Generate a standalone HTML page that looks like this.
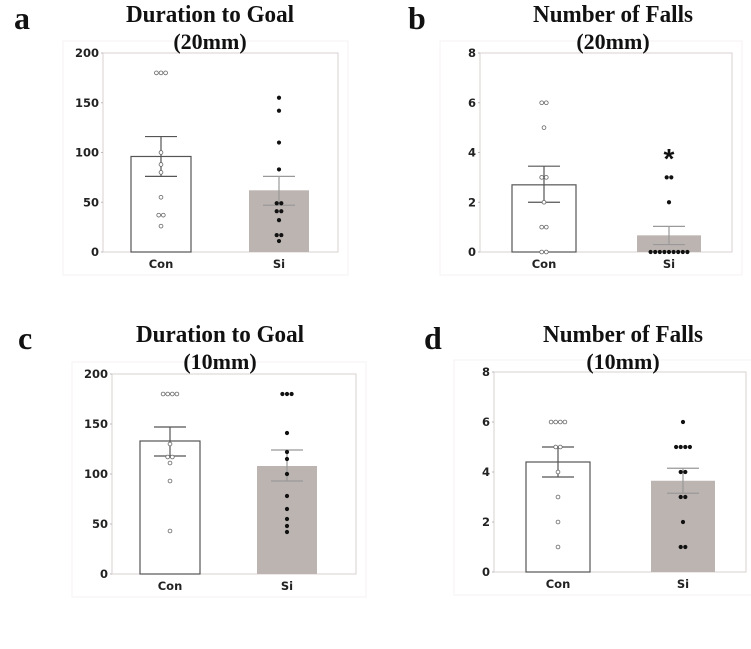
<!DOCTYPE html>
<html><head><meta charset="utf-8">
<style>
body{margin:0;background:#fff;width:751px;height:649px;overflow:hidden}
svg{display:block}
.ttl{font-family:"Liberation Serif",serif;font-weight:bold;font-size:22px;fill:#111;text-anchor:middle}
.lbl{font-family:"Liberation Serif",serif;font-weight:bold;font-size:32px;fill:#111}
.tick{font-family:"DejaVu Sans","Liberation Sans",sans-serif;font-weight:bold;font-size:11.5px;fill:#222}
</style></head><body>
<svg id="fig" width="751" height="649"></svg>
<script>
// Panel data
const categories = ["Con","Si"];
const aCon = [180,180,180,100,88,80,55,37,37,26];
const aSi = [155,142,110,83,49,49,41,41,32,17,17,11];
const aMeans = [96,62];
const aErrLo = [76,47];
const aErrHi = [116,76];
const aTicks = [0,50,100,150,200];

const bCon = [6,6,5,3,3,2,1,1,0,0];
const bSi = [3,3,2,0,0,0,0,0,0,0,0,0];
const bMeans = [2.7,0.67];
const bErrLo = [2.0,0.3];
const bErrHi = [3.45,1.03];
const bTicks = [0,2,4,6,8];

const cCon = [180,180,180,180,130,117,117,111,93,43];
const cSi = [180,180,180,141,122,115,100,78,65,55,48,42];
const cMeans = [133,108];
const cErrLo = [118,93];
const cErrHi = [147,124];
const cTicks = [0,50,100,150,200];

const dCon = [6,6,6,6,5,5,4,3,2,1];
const dSi = [6,5,5,5,5,4,4,3,3,2,1,1];
const dMeans = [4.4,3.65];
const dErrLo = [3.8,3.15];
const dErrHi = [5.0,4.15];
const dTicks = [0,2,4,6,8];

const NS="http://www.w3.org/2000/svg";
const svg=document.getElementById('fig');
function mk(tag,attrs,parent){const e=document.createElementNS(NS,tag);for(const k in attrs)e.setAttribute(k,attrs[k]);(parent||svg).appendChild(e);return e;}

function panel(o){
  const g=mk('g',{});
  
  
  const ymax=o.ticks[o.ticks.length-1];
  const y=v=>o.bottom-(v/ymax)*(o.bottom-o.top);
  const f=mk('rect',{x:o.left-40,y:o.top-12,width:o.right-o.left+50,height:o.bottom-o.top+35,fill:'none',stroke:'#f4f2f2','stroke-width':1},g);
  
  
  const box=mk('rect',{x:o.left,y:o.top,width:o.right-o.left,height:o.bottom-o.top,fill:'#fff',stroke:'#d8d0d0','stroke-width':1},g);
  
  
  o.ticks.forEach(t=>{
    const tx=mk('text',{x:o.left-4,y:y(t)+4,'text-anchor':'end',class:'tick'},g);
    tx.textContent=t;
    
    
    mk('line',{x1:o.left-2,x2:o.left,y1:y(t),y2:y(t),stroke:'#bbb'},g);
  });
  const centers=o.centers, bw=o.bw;
  const fills=['#fff','#bcb4b1'];
  const strokes=['#555','none'];
  for(let i=0;i<2;i++){
    const b=mk('rect',{x:centers[i]-bw/2,y:y(o.means[i]),width:bw,height:o.bottom-y(o.means[i]),fill:fills[i],stroke:strokes[i],'stroke-width':1.2},g);
    
    
    const ec=i==0?'#555':'#999';
    const eb=mk('path',{d:`M${centers[i]} ${y(o.lo[i])}V${y(o.hi[i])}M${centers[i]-16} ${y(o.hi[i])}h32M${centers[i]-16} ${y(o.lo[i])}h32`,stroke:ec,'stroke-width':1.2,fill:'none'},g);
    
    
    const xl=mk('text',{x:centers[i],y:o.bottom+16,'text-anchor':'middle',class:'tick','font-size':'12.5'},g);
    xl.textContent=categories[i];
    
    
  }
  [o.con,o.si].forEach((arr,i)=>{
    const groups={};
    arr.forEach(v=>{groups[v]=(groups[v]||0)+1;});
    Object.keys(groups).forEach(k=>{
      const n=groups[k],v=+k;
      for(let j=0;j<n;j++){
        const cx=centers[i]+(j-(n-1)/2)*4.6;
        const c=mk('circle',{cx:cx,cy:y(v),r:i==0?1.9:2.1,fill:i==0?'#fff':'#111',stroke:i==0?'#666':'none','stroke-width':0.8},g);
        
        
      }
    });
  });
  const t1=mk('text',{x:0,y:0,class:'ttl',transform:`translate(${o.tcx} ${o.ty}) scale(1.05 1.12)`},g);t1.textContent=o.title;
  
  
  const t2=mk('text',{x:o.tcx,y:o.ty+27,class:'ttl'},g);t2.textContent=o.sub;
  
  
  const l=mk('text',{x:o.lx,y:o.ty+7,class:'lbl'},g);l.textContent=o.id;
  
  
  if(o.star){const s=mk('text',{x:centers[1],y:y(3.85)+12,'text-anchor':'middle','font-family':'Liberation Sans,sans-serif','font-size':'28','font-weight':'bold',fill:'#111'},g);s.textContent='*';
    
    }
}
panel({id:'a',left:103,right:338,top:53,bottom:252,centers:[161,279],bw:60,ticks:aTicks,means:aMeans,lo:aErrLo,hi:aErrHi,con:aCon,si:aSi,title:'Duration to Goal',sub:'(20mm)',tcx:210,ty:22,lx:14});
panel({id:'b',left:480,right:732,top:53,bottom:252,centers:[544,669],bw:64,ticks:bTicks,means:bMeans,lo:bErrLo,hi:bErrHi,con:bCon,si:bSi,title:'Number of Falls',sub:'(20mm)',tcx:613,ty:22,lx:408,star:true});
panel({id:'c',left:112,right:356,top:374,bottom:574,centers:[170,287],bw:60,ticks:cTicks,means:cMeans,lo:cErrLo,hi:cErrHi,con:cCon,si:cSi,title:'Duration to Goal',sub:'(10mm)',tcx:220,ty:342,lx:18});
panel({id:'d',left:494,right:746,top:372,bottom:572,centers:[558,683],bw:64,ticks:dTicks,means:dMeans,lo:dErrLo,hi:dErrHi,con:dCon,si:dSi,title:'Number of Falls',sub:'(10mm)',tcx:623,ty:342,lx:424});
</script>
</body></html>
